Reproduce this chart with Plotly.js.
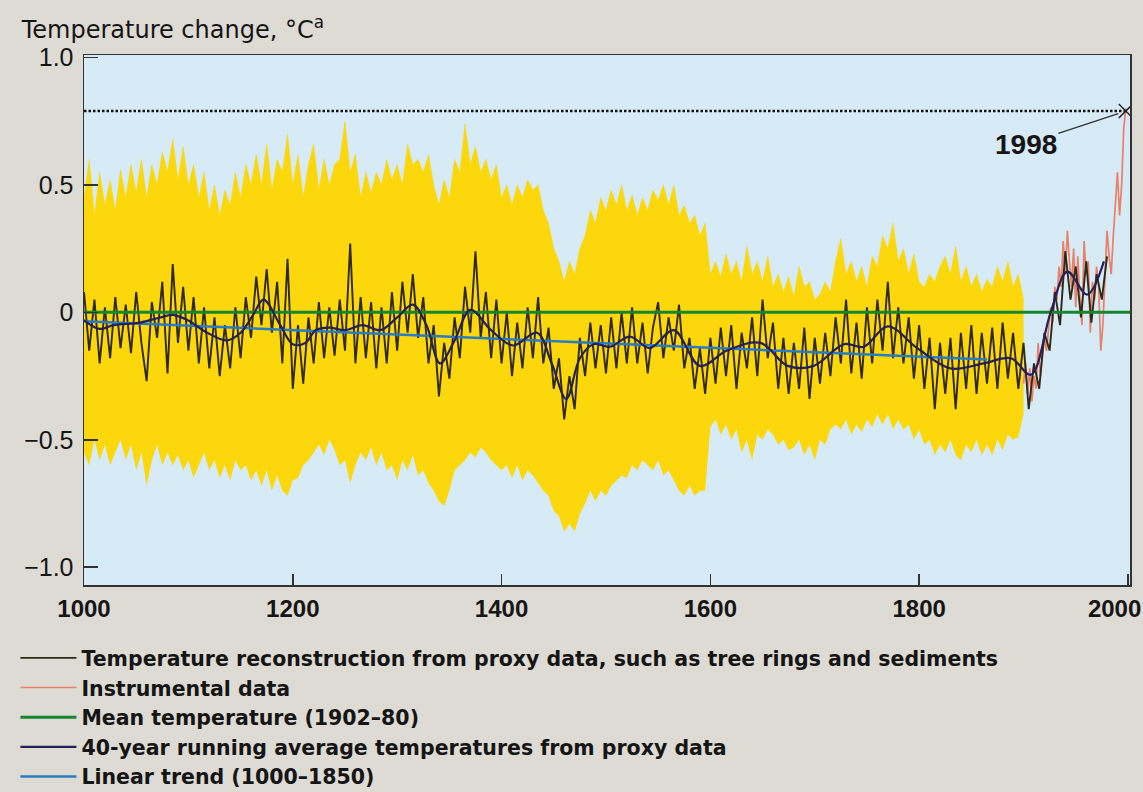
<!DOCTYPE html>
<html>
<head>
<meta charset="utf-8">
<script src="https://cdn.plot.ly/plotly-3.0.1.min.js"></script>
<style>
  html, body { margin: 0; padding: 0; background: #dddbd4; }
  #chart { width: 1143px; height: 792px; }
</style>
</head>
<body>
<div id="chart"></div>
<script>
// ---------------- DATA ----------------
// Proxy reconstruction, sampled every 5 years, 1000..1980
const proxyStart = 1000, proxyStep = 5;
const proxyValues = [
  0.08,-0.15,0.05,-0.2,0.02,-0.18,0.06,-0.14,0.03,-0.16,
  0.08,-0.12,-0.27,0.04,-0.1,0.12,-0.24,0.19,-0.12,0.1,
  -0.15,0.06,-0.2,0.02,-0.22,-0.02,-0.25,-0.05,-0.22,0.02,
  -0.18,0.06,-0.1,0.14,-0.05,0.17,-0.08,0.12,-0.2,0.21,
  -0.3,-0.05,-0.28,-0.02,-0.2,0.04,-0.18,0.02,-0.17,0.05,
  -0.15,0.27,-0.2,0.06,-0.18,0.04,-0.22,0.02,-0.2,0.08,
  -0.15,0.12,-0.08,0.15,-0.1,0.06,-0.2,-0.05,-0.33,-0.12,
  -0.26,-0.02,-0.18,0.1,-0.08,0.24,-0.1,0.08,-0.18,0.05,
  -0.2,0.0,-0.25,-0.04,-0.22,0.02,-0.18,0.06,-0.2,-0.06,
  -0.3,-0.18,-0.42,-0.25,-0.38,-0.1,-0.25,-0.04,-0.22,-0.05,
  -0.24,-0.02,-0.22,0.0,-0.2,0.02,-0.2,-0.04,-0.24,-0.06,
  0.04,-0.18,-0.02,-0.15,0.03,-0.22,-0.1,-0.3,-0.14,-0.32,
  -0.1,-0.28,-0.06,-0.25,-0.05,-0.3,-0.08,-0.22,-0.02,-0.25,
  0.05,-0.18,-0.04,-0.3,-0.1,-0.32,-0.12,-0.3,-0.06,-0.34,
  -0.1,-0.28,-0.08,-0.25,-0.02,-0.2,0.05,-0.24,-0.04,-0.26,
  0.02,-0.2,0.05,-0.15,0.12,-0.18,0.02,-0.2,-0.02,-0.26,
  -0.05,-0.3,-0.1,-0.38,-0.12,-0.32,-0.1,-0.38,-0.08,-0.3,
  -0.05,-0.32,-0.08,-0.28,-0.06,-0.3,-0.04,-0.26,-0.08,-0.3,
  -0.12,-0.38,-0.2,-0.3,-0.08,-0.15,0.08,-0.05,0.24,0.05,
  0.18,-0.02,0.2,-0.04,0.15,0.05,0.22
];

// Uncertainty band (yellow), every 5 years, 1000..1900
const bandStart = 1000, bandStep = 5;
const bandUpper = [
  0.45,0.6,0.38,0.55,0.42,0.52,0.4,0.56,0.45,0.58,
  0.47,0.6,0.45,0.58,0.5,0.63,0.55,0.68,0.52,0.65,
  0.5,0.58,0.45,0.55,0.4,0.5,0.38,0.48,0.42,0.55,
  0.45,0.58,0.5,0.62,0.5,0.66,0.48,0.6,0.55,0.7,
  0.5,0.62,0.45,0.58,0.66,0.48,0.6,0.5,0.58,0.6,
  0.75,0.55,0.62,0.45,0.55,0.47,0.55,0.5,0.6,0.52,
  0.58,0.5,0.66,0.58,0.6,0.55,0.62,0.5,0.42,0.52,
  0.45,0.6,0.55,0.74,0.58,0.65,0.55,0.6,0.52,0.58,
  0.45,0.5,0.42,0.5,0.45,0.52,0.48,0.5,0.4,0.35,
  0.25,0.2,0.12,0.2,0.15,0.25,0.3,0.4,0.35,0.45,
  0.4,0.48,0.42,0.5,0.4,0.46,0.38,0.45,0.4,0.48,
  0.44,0.5,0.42,0.5,0.38,0.42,0.35,0.38,0.3,0.35,
  0.15,0.2,0.14,0.23,0.15,0.2,0.12,0.26,0.15,0.2,
  0.12,0.22,0.1,0.15,0.08,0.14,0.06,0.18,0.1,0.12,
  0.05,0.07,0.12,0.08,0.2,0.29,0.15,0.2,0.12,0.18,
  0.1,0.22,0.18,0.3,0.25,0.35,0.2,0.25,0.15,0.23,
  0.12,0.1,0.15,0.12,0.18,0.22,0.15,0.26,0.12,0.18,
  0.1,0.15,0.08,0.13,0.1,0.18,0.12,0.2,0.1,0.15,
  0.05
];
const bandLower = [
  -0.55,-0.6,-0.5,-0.58,-0.52,-0.6,-0.55,-0.5,-0.58,-0.52,
  -0.62,-0.55,-0.68,-0.58,-0.52,-0.6,-0.55,-0.6,-0.56,-0.62,
  -0.58,-0.65,-0.6,-0.55,-0.62,-0.58,-0.65,-0.6,-0.66,-0.58,
  -0.62,-0.6,-0.66,-0.62,-0.68,-0.62,-0.7,-0.64,-0.7,-0.72,
  -0.66,-0.65,-0.6,-0.58,-0.55,-0.52,-0.56,-0.5,-0.54,-0.6,
  -0.58,-0.67,-0.6,-0.55,-0.58,-0.53,-0.6,-0.55,-0.62,-0.6,
  -0.66,-0.58,-0.62,-0.56,-0.64,-0.62,-0.67,-0.7,-0.74,-0.76,
  -0.7,-0.62,-0.6,-0.58,-0.55,-0.57,-0.53,-0.55,-0.58,-0.6,
  -0.62,-0.6,-0.65,-0.6,-0.66,-0.62,-0.64,-0.67,-0.7,-0.72,
  -0.78,-0.8,-0.86,-0.83,-0.86,-0.79,-0.75,-0.7,-0.74,-0.7,
  -0.72,-0.68,-0.66,-0.64,-0.65,-0.6,-0.62,-0.58,-0.6,-0.62,
  -0.58,-0.64,-0.62,-0.66,-0.7,-0.72,-0.68,-0.72,-0.7,-0.7,
  -0.45,-0.42,-0.48,-0.44,-0.5,-0.46,-0.55,-0.5,-0.58,-0.48,
  -0.5,-0.46,-0.48,-0.52,-0.5,-0.54,-0.53,-0.5,-0.56,-0.52,
  -0.58,-0.5,-0.52,-0.46,-0.44,-0.46,-0.42,-0.48,-0.44,-0.47,
  -0.42,-0.45,-0.4,-0.44,-0.4,-0.46,-0.42,-0.46,-0.44,-0.5,
  -0.46,-0.52,-0.5,-0.56,-0.52,-0.55,-0.5,-0.56,-0.58,-0.52,
  -0.55,-0.5,-0.56,-0.52,-0.56,-0.5,-0.54,-0.48,-0.5,-0.49,
  -0.4
];

// Instrumental data, every 2 years, 1900..1998
const instrStart = 1900, instrStep = 2;
const instrValues = [
  -0.28,-0.2,-0.32,-0.22,-0.35,-0.25,-0.3,-0.12,-0.25,-0.18,
  -0.1,-0.15,-0.05,0.02,-0.04,0.1,0.05,0.18,0.1,0.28,
  0.15,0.32,0.2,0.1,0.25,0.02,0.22,0.05,-0.05,0.28,
  0.15,0.2,-0.08,0.12,0.05,0.18,0.1,-0.15,-0.05,0.15,
  0.32,0.22,0.15,0.3,0.45,0.55,0.38,0.5,0.72,0.8
];

// 40-year running average (key points)
const avgYears = [1000,1015,1028,1054,1073,1085,1099,1118,1137,1150,1162,1172,1188,1200,1212,1222,1235,1250,1267,1284,1300,1315,1328,1341,1355,1370,1390,1411,1434,1448,1462,1475,1488,1504,1523,1542,1565,1590,1616,1648,1674,1699,1728,1747,1770,1798,1830,1862,1888,1907,1926,1942,1961,1977];
const avgValues = [-0.03,-0.065,-0.05,-0.04,-0.02,-0.01,-0.03,-0.08,-0.11,-0.08,-0.01,0.05,-0.05,-0.125,-0.12,-0.07,-0.06,-0.07,-0.05,-0.07,-0.02,0.03,-0.05,-0.2,-0.11,0.01,-0.07,-0.13,-0.08,-0.2,-0.34,-0.18,-0.125,-0.135,-0.095,-0.14,-0.07,-0.21,-0.15,-0.12,-0.21,-0.21,-0.125,-0.135,-0.055,-0.14,-0.22,-0.2,-0.18,-0.245,0.0,0.16,0.07,0.2];

// Linear trend, mean line, 1998 record
const trendYears = [1000, 1865];
const trendValues = [-0.035, -0.185];
const meanYears = [1000, 2002];
const meanValues = [0, 0];
const recordYear = 1998;
const recordValue = 0.79;

// Axis tick labels
const xTickVals = [1000, 1200, 1400, 1600, 1800, 2000];
const xTickText = ['1000', '1200', '1400', '1600', '1800', '2000\u00a0\u00a0\u00a0\u00a0'];
const yTickVals = [-1, -0.5, 0, 0.5, 1];
const yTickText = ['−1.0', '−0.5', '0', '0.5', '1.0'];

const legendNames = [
  'Temperature reconstruction from proxy data, such as tree rings and sediments',
  'Instrumental data',
  'Mean temperature (1902–80)',
  '40-year running average temperatures from proxy data',
  'Linear trend (1000–1850)'
];

// ---------------- BUILD ----------------
function yearsFor(start, step, n) { const a = []; for (let i = 0; i < n; i++) a.push(start + i * step); return a; }
const proxyYears = yearsFor(proxyStart, proxyStep, proxyValues.length);
const bandYears = yearsFor(bandStart, bandStep, bandUpper.length);
const instrYears = yearsFor(instrStart, instrStep, instrValues.length);

const YELLOW = '#fbd70c';
const traces = [
  { x: bandYears, y: bandLower, type: 'scatter', mode: 'lines', line: { width: 0, color: YELLOW }, showlegend: false, hoverinfo: 'skip' },
  { x: bandYears, y: bandUpper, type: 'scatter', mode: 'lines', fill: 'tonexty', fillcolor: YELLOW, line: { width: 0.5, color: YELLOW }, showlegend: false, hoverinfo: 'skip' },
  { x: instrYears, y: instrValues, type: 'scatter', mode: 'lines', name: legendNames[1], legendrank: 2, line: { color: '#e8806a', width: 1.7 } },
  { x: proxyYears, y: proxyValues, type: 'scatter', mode: 'lines', name: legendNames[0], legendrank: 1, line: { color: '#2e2a17', width: 1.9 } },
  { x: meanYears, y: meanValues, type: 'scatter', mode: 'lines', name: legendNames[2], legendrank: 3, line: { color: '#17862c', width: 3 } },
  { x: trendYears, y: trendValues, type: 'scatter', mode: 'lines', name: legendNames[4], legendrank: 5, line: { color: '#2a7cc0', width: 2.5 } },
  { x: avgYears, y: avgValues, type: 'scatter', mode: 'lines', name: legendNames[3], legendrank: 4, line: { color: '#24205a', width: 2.2, shape: 'spline', smoothing: 1 } },
  { x: [1000, recordYear], y: [recordValue, recordValue], type: 'scatter', mode: 'lines', showlegend: false, line: { color: '#111', width: 2.5, dash: '2.5px,2px' } },
  { x: [recordYear], y: [recordValue], type: 'scatter', mode: 'markers', showlegend: false, marker: { symbol: 'x-thin-open', size: 14, color: '#222', line: { color: '#222', width: 1.5 } } }
];

const layout = {
  width: 1143, height: 792,
  paper_bgcolor: '#dddbd4',
  plot_bgcolor: '#d6ebf6',
  margin: { l: 84, r: 13, t: 55, b: 207, autoexpand: false },
  font: { family: 'Liberation Sans, Arial, sans-serif', color: '#151515' },
  title: { text: 'Temperature change, °C<sup>a</sup>', x: 0.019, xanchor: 'left', y: 0.962, yanchor: 'middle', font: { family: 'DejaVu Sans, sans-serif', size: 24, color: '#151515' } },
  xaxis: {
    range: [1000, 2002], tickvals: xTickVals, ticktext: xTickText,
    ticks: 'inside', ticklen: 11, tickwidth: 1.5, tickcolor: '#333',
    showgrid: false, zeroline: false, showline: true, linecolor: '#333', linewidth: 1.5, mirror: true,
    tickfont: { size: 24, weight: 'bold', color: '#151515' }, ticklabelstandoff: 2, ticklabeloverflow: 'allow'
  },
  yaxis: {
    range: [-1.07, 1.01], tickvals: yTickVals, ticktext: yTickText,
    ticks: 'inside', ticklen: 14, tickwidth: 1.5, tickcolor: '#333',
    showgrid: false, zeroline: false, showline: true, linecolor: '#333', linewidth: 1.5, mirror: true,
    tickfont: { size: 25, color: '#151515' }, ticklabelstandoff: 4, ticklabeloverflow: 'allow'
  },
  showlegend: true,
  legend: {
    xref: 'container', yref: 'container', x: 0.0135, y: 0.1944, xanchor: 'left', yanchor: 'top',
    bgcolor: 'rgba(0,0,0,0)', itemwidth: 56, traceorder: 'normal',
    font: { family: 'DejaVu Sans, sans-serif', size: 20.5, weight: 'bold', color: '#151515' }
  },
  annotations: [{
    x: recordYear, y: recordValue, xref: 'x', yref: 'y', text: '<b>1998</b>',
    showarrow: true, arrowhead: 0, arrowwidth: 1.3, arrowcolor: '#333', ax: -100, ay: 33, standoff: 8,
    font: { size: 28, color: '#151515' }
  }],
  hovermode: false
};

Plotly.newPlot('chart', traces, layout, { displayModeBar: false, staticPlot: true });
</script>
</body>
</html>
